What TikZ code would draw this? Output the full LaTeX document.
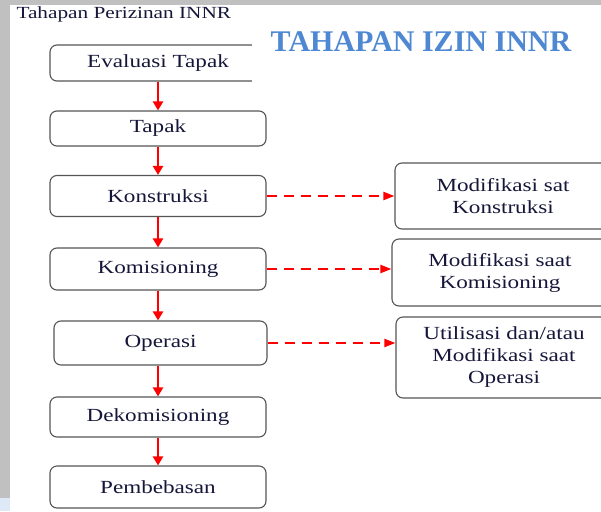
\documentclass[tikz,border=0pt]{standalone}
\usepackage{fontspec}
\setmainfont[FakeStretch=1.25]{Liberation Serif}
\newfontfamily\titlefont{Liberation Serif}
\usetikzlibrary{arrows.meta}
\definecolor{framegray}{HTML}{C0C0C0}
\definecolor{paleblue}{HTML}{DDE9F6}
\definecolor{boxgray}{HTML}{555555}
\definecolor{txtnavy}{HTML}{16163A}
\definecolor{titleblue}{HTML}{4F88D2}
\begin{document}
\begin{tikzpicture}[x=1pt,y=-1pt,
  stage/.style={draw=boxgray,line width=1.1pt,rounded corners=7pt,minimum width=216pt,
    inner sep=0pt,align=center,text=txtnavy,font=\fontsize{18.5}{22}\selectfont},
  change/.style={stage,font=\fontsize{18.5}{22}\selectfont},
  flow/.style={red,line width=2.2pt,-{Triangle[length=9pt,width=10pt]}},
  side/.style={red,line width=2pt,dash pattern=on 10pt off 7pt,-{Triangle[length=11pt,width=8pt]}}]
\useasboundingbox (0,0) rectangle (601,511);
% frame
\fill[framegray] (0,0) rectangle (601,511);
\fill[white] (10,5) rectangle (601,511);
\fill[paleblue] (0,498) rectangle (10,511);
\node[anchor=base west,text=txtnavy,font=\fontsize{17}{17}\selectfont] (head) at (13,19) {Tahapan Perizinan INNR};
% main stages
\node[stage,minimum height=36pt] (eval) at (158,63) {Evaluasi Tapak};
\node[stage,minimum height=35pt] (tapak) at (158,128.5) {Tapak};
\node[stage,minimum height=41pt] (konst) at (158,196) {Konstruksi};
\node[stage,minimum height=42pt] (komis) at (158,269) {Komisioning};
\node[stage,minimum height=44pt,minimum width=213pt] (oper) at (160.5,343) {Operasi};
\node[stage,minimum height=40pt] (dekom) at (158,417) {Dekomisioning};
\node[stage,minimum height=42pt] (bebas) at (158,487) {Pembebasan};
% title over the first box
\fill[white] (252,20) rectangle (601,88);
\node[text=titleblue,font=\titlefont\bfseries\fontsize{30}{30}\selectfont] (title) at (421,42) {TAHAPAN IZIN INNR};
% modifications
\node[change,minimum height=66pt] (modk) at (503,196) {Modifikasi sat\\Konstruksi};
\node[change,minimum height=67pt] (modm) at (500,272.5) {Modifikasi saat\\Komisioning};
\node[change,minimum height=81pt] (modo) at (504,357.5) {Utilisasi dan/atau\\Modifikasi saat\\Operasi};
% arrows
\foreach \a/\b in {eval/tapak,tapak/konst,konst/komis,komis/oper,oper/dekom,dekom/bebas}
  \draw[flow] (\a.south -| eval.south) -- (\b.north -| eval.south);
\draw[side] (konst.east) -- (konst.east -| modk.west);
\draw[side] (komis.east) -- (komis.east -| modm.west);
\draw[side] (oper.east) -- (oper.east -| modo.west);
\end{tikzpicture}
\end{document}
